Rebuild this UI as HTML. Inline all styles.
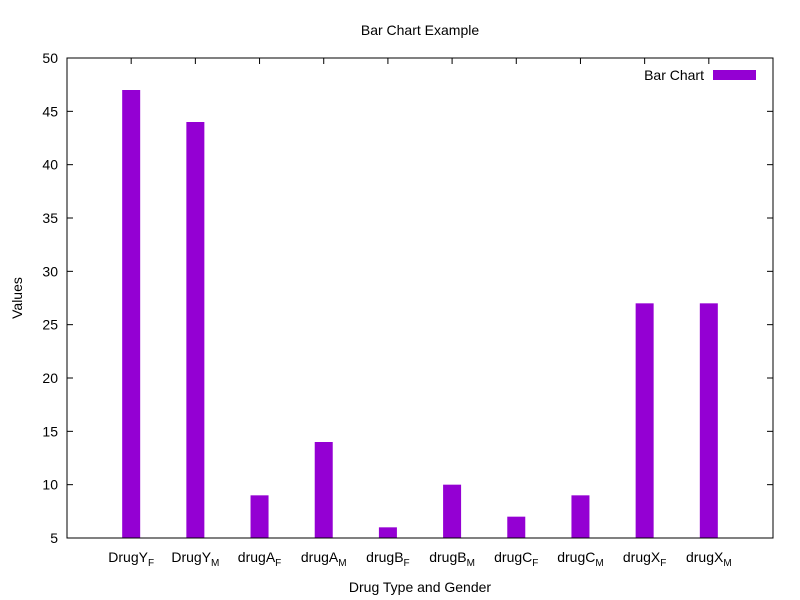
<!DOCTYPE html>
<html><head><meta charset="utf-8"><style>
body{margin:0;background:#fff}
svg{display:block;font-family:"Liberation Sans","DejaVu Sans",sans-serif}
</style></head><body>
<svg id="chart" width="800" height="600">
<rect width="800" height="600" fill="#fff"/>
<text x="420" y="35" text-anchor="middle" font-size="14">Bar Chart Example</text>
<text x="420" y="592" text-anchor="middle" font-size="14">Drug Type and Gender</text>
<text transform="translate(22,298) rotate(-90)" text-anchor="middle" font-size="14">Values</text>
<g id="grid"></g>
<g id="bars"></g>
<rect x="67" y="58" width="706" height="480" fill="none" stroke="#000" stroke-width="1"/>
<g>
<text x="704" y="80" text-anchor="end" font-size="14">Bar Chart</text>
<rect x="713" y="70" width="43" height="10" fill="#9400d3"/>
</g>
</svg>
<script>
const categories=["DrugY","DrugY","drugA","drugA","drugB","drugB","drugC","drugC","drugX","drugX"];
const genders=["F","M","F","M","F","M","F","M","F","M"];
const values=[47,44,9,14,6,10,7,9,27,27];
const yTicks=[5,10,15,20,25,30,35,40,45,50];
const L=67,R=773,T=58,B=538,yMin=5,yMax=50,xMin=-1,xMax=10;
const NS="http://www.w3.org/2000/svg";
function xs(i){return L+(i-xMin)/(xMax-xMin)*(R-L);}
function ys(v){return B-(v-yMin)/(yMax-yMin)*(B-T);}
function mk(t,a,p){const e=document.createElementNS(NS,t);for(const k in a)e.setAttribute(k,a[k]);p.appendChild(e);return e;}
const g=document.getElementById('grid'),bg=document.getElementById('bars');
yTicks.forEach(v=>{const y=ys(v);
mk('line',{x1:L,x2:L+6,y1:y,y2:y,stroke:'#000'},g);
mk('line',{x1:R-6,x2:R,y1:y,y2:y,stroke:'#000'},g);
const t=mk('text',{x:L-9,y:y+5,'text-anchor':'end','font-size':14},g);t.textContent=v;


});
values.forEach((v,i)=>{const x=xs(i);
mk('line',{x1:x,x2:x,y1:T,y2:T+6,stroke:'#000'},g);
mk('line',{x1:x,x2:x,y1:B,y2:B-6,stroke:'#000'},g);
const r=mk('rect',{x:x-9,y:ys(v),width:18,height:B-ys(v),fill:'#9400d3'},bg);


const t=mk('text',{x:x,y:562,'text-anchor':'middle','font-size':14},g);


const a=document.createElementNS(NS,'tspan');a.textContent=categories[i];t.appendChild(a);
const s=document.createElementNS(NS,'tspan');s.setAttribute('font-size','10');s.setAttribute('dy','4');s.textContent=genders[i];t.appendChild(s);
});
</script>
</body></html>
